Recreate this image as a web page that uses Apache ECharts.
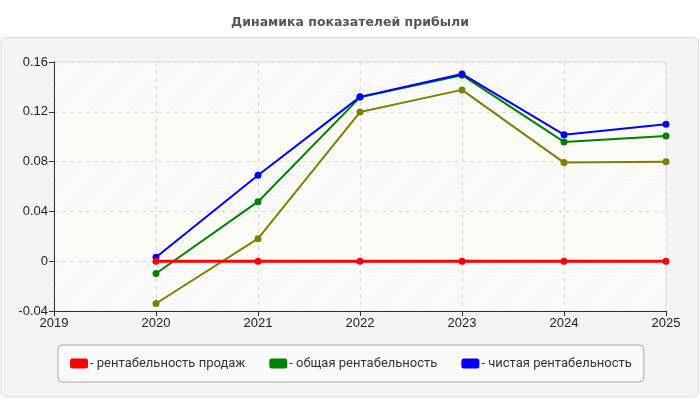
<!DOCTYPE html>
<html>
<head>
<meta charset="utf-8">
<script src="https://cdn.jsdelivr.net/npm/echarts@6/dist/echarts.min.js"></script>
<style>
  html, body { margin: 0; padding: 0; background: #fff; }
  #chart { width: 700px; height: 400px; }
</style>
</head>
<body>
<div id="chart"></div>
<script>
// годы и показатели
var years = [2020, 2021, 2022, 2023, 2024, 2025];
var salesProfit = [0, 0, 0, 0, 0, 0];
var totalProfit = [-0.0099, 0.0478, 0.1316, 0.1494, 0.0958, 0.1006];
var netProfit = [0.0032, 0.069, 0.132, 0.1504, 0.1016, 0.110];
var extraProfit = [-0.034, 0.0181, 0.1198, 0.1376, 0.0792, 0.0798];
var yTicks = [-0.04, 0, 0.04, 0.08, 0.12, 0.16];

function pairs(vals) {
    return years.map(function (y, i) { return [y, vals[i]]; });
}

// штриховка фона
var hatch = document.createElement('canvas');
hatch.width = 5; hatch.height = 5;
var ctx = hatch.getContext('2d');
ctx.fillStyle = '#ffffff';
ctx.fillRect(0, 0, 5, 5);
ctx.strokeStyle = '#eeeeee';
ctx.lineWidth = 1;
ctx.beginPath();
ctx.moveTo(-1, 6); ctx.lineTo(6, -1);
ctx.moveTo(-1, 1); ctx.lineTo(1, -1);
ctx.moveTo(4, 6); ctx.lineTo(6, 4);
ctx.stroke();

var myChart = echarts.init(document.getElementById('chart'));
var font = '"Liberation Sans", Arial, sans-serif';

function line(name, color, data, width) {
    return {
        name: name,
        type: 'line',
        data: pairs(data),
        symbol: 'circle',
        symbolSize: 7,
        lineStyle: { color: color, width: width },
        itemStyle: { color: color },
        z: 3
    };
}

myChart.setOption({
    animation: false,
    title: {
        text: 'Динамика показателей прибыли',
        left: 'center',
        top: 11,
        textStyle: { fontFamily: '"DejaVu Sans", sans-serif', fontSize: 12.5, fontWeight: 'bold', color: '#555' }
    },
    graphic: [{
        type: 'rect',
        shape: { x: 1, y: 37.5, width: 697.5, height: 359.5, r: 5 },
        style: { fill: '#f4f4f4', stroke: '#dddddd', lineWidth: 1 },
        z: -10
    }],
    grid: {
        left: 54, right: 34, top: 62, bottom: 89,
        show: true,
        backgroundColor: { image: hatch, repeat: 'repeat' },
        borderColor: '#dddddd',
        borderWidth: 1
    },
    legend: {
        data: ['рентабельность продаж', 'общая рентабельность', 'чистая рентабельность'],
        left: 58,
        top: 345,
        padding: [12, 12, 12, 12],
        itemGap: 24,
        itemWidth: 18,
        itemHeight: 10,
        icon: 'roundRect',
        backgroundColor: '#fafafa',
        borderColor: '#aaaaaa',
        borderWidth: 1,
        borderRadius: 4,
        formatter: function (name) { return '- ' + name; },
        textStyle: { fontFamily: 'Roboto, sans-serif', fontSize: 13, color: '#333', padding: [0, 0, 0, -3] }
    },
    xAxis: {
        type: 'value',
        min: 2019,
        max: 2025,
        interval: 1,
        axisLine: { show: true, onZero: false, lineStyle: { color: '#333' } },
        axisTick: { show: true, length: 5, lineStyle: { color: '#333' } },
        axisLabel: { fontFamily: font, fontSize: 13, color: '#222', margin: 6, formatter: function (v) { return String(v); } },
        splitLine: { show: true, lineStyle: { color: '#dddddd', type: [4, 4] } }
    },
    yAxis: {
        type: 'value',
        min: yTicks[0],
        max: yTicks[yTicks.length - 1],
        interval: 0.04,
        axisLine: { show: true, onZero: false, lineStyle: { color: '#333' } },
        axisTick: { show: true, length: 5, lineStyle: { color: '#333' } },
        axisLabel: {
            fontFamily: font, fontSize: 13, color: '#222', margin: 6,
            formatter: function (v) { return String(+v.toFixed(2)); }
        },
        splitLine: { show: true, lineStyle: { color: '#dddddd', type: [4, 4] } },
        splitArea: { show: true, areaStyle: { color: ['rgba(0,0,0,0)', '#fcfcf6'] } }
    },
    series: [
        line('прочее', '#808000', extraProfit, 2),
        line('общая рентабельность', '#008000', totalProfit, 2),
        line('чистая рентабельность', '#0000ff', netProfit, 2),
        line('рентабельность продаж', '#ff0000', salesProfit, 3)
    ]
});
</script>
</body>
</html>
